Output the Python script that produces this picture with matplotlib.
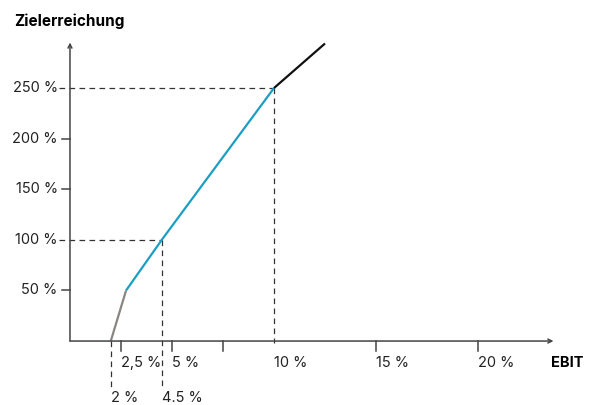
import matplotlib.pyplot as plt

plt.rcParams['font.family'] = ['Inter', 'DejaVu Sans']

# Zielerreichung in Abhängigkeit vom EBIT
ebit_grau = [2.0, 2.75]
ziel_grau = [0, 50]
ebit_blau = [2.75, 4.5, 10.0]
ziel_blau = [50, 100, 250]
ebit_schwarz = [10.0, 12.5]
ziel_schwarz = [250, 294]

x_ticks = [2.5, 5, 7.5, 10, 15, 20]
x_labels = ['2,5 %', '5 %', '', '10 %', '15 %', '20 %']
y_ticks = [50, 100, 150, 200, 250]
y_labels = ['50 %', '100 %', '150 %', '200 %', '250 %']
marken = [(2.0, 0, '2 %'), (4.5, 100, '4.5 %'), (10.0, 250, '10 %')]

fig = plt.figure(figsize=(5.9, 4.05), dpi=100)
ax = fig.add_axes([0, 0, 1, 1])
ax.set_xlim(-3.43, 25.49)
ax.set_ylim(-63.2, 337.0)
ax.axis('off')

achse = '#444444'
text_farbe = '#222222'
dash = (0, (4.5, 3.5))

# Achsen mit Pfeilen
ax.annotate('', xy=(23.7, 0), xytext=(0, 0),
            arrowprops=dict(arrowstyle='->', color=achse, lw=1.1, mutation_scale=7, shrinkA=0, shrinkB=0))
ax.annotate('', xy=(0, 295), xytext=(0, 0),
            arrowprops=dict(arrowstyle='->', color=achse, lw=1.1, mutation_scale=7, shrinkA=0, shrinkB=0))

# Ticks y
for y, lab in zip(y_ticks, y_labels):
    if y not in (100, 250):
        ax.plot([-0.4, 0], [y, y], color=achse, lw=1.1)
    ax.text(-0.6, y, lab, ha='right', va='center', fontsize=10.5, color=text_farbe)

# Ticks x
for x, lab in zip(x_ticks, x_labels):
    if x != 10:
        ax.plot([x, x], [0, -9.5], color=achse, lw=1.1)
    ax.text(x, -22, lab, ha='left', va='center', fontsize=10.5, color=text_farbe)

# Hilfslinien
ax.plot([-0.55, 10.0], [250, 250], color='#333333', lw=0.9, ls=dash)
ax.plot([-0.55, 4.5], [100, 100], color='#333333', lw=0.9, ls=dash)
ax.plot([10.0, 10.0], [250, -2], color='#333333', lw=0.9, ls=dash)
ax.plot([4.5, 4.5], [100, -47], color='#333333', lw=0.9, ls=dash)
ax.plot([2.0, 2.0], [0, -47], color='#333333', lw=0.9, ls=dash)
for x, y, lab in marken[:2]:
    ax.text(x, -56.5, lab, ha='left', va='center', fontsize=10.5, color=text_farbe)

# Kurve
ax.plot(ebit_grau, ziel_grau, color='#8a8583', lw=1.6, solid_capstyle='butt')
ax.plot(ebit_blau, ziel_blau, color='#1a9fc2', lw=1.6, solid_capstyle='butt')
ax.plot(ebit_schwarz, ziel_schwarz, color='#111111', lw=1.6, solid_capstyle='butt')

ax.text(-2.75, 316, 'Zielerreichung', ha='left', va='center', fontsize=11, fontweight='bold')
ax.text(23.6, -22, 'EBIT', ha='left', va='center', fontsize=10.5, fontweight='bold')

fig.savefig('out.png', dpi=100)
